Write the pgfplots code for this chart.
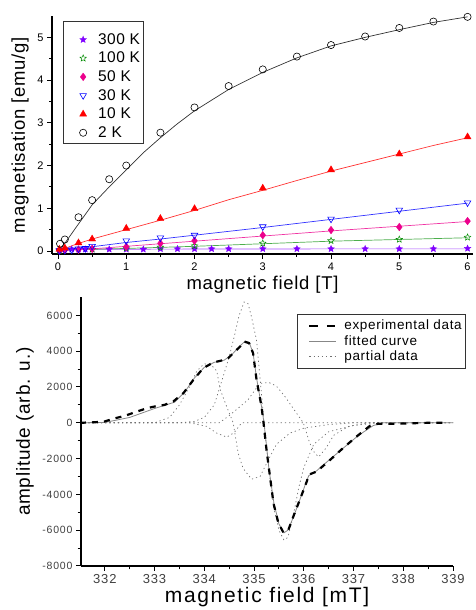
\documentclass[border=0pt]{standalone}
\usepackage{fontspec}
\setmainfont{Liberation Sans}
\usepackage{pgfplots}
\pgfplotsset{compat=1.18}

\definecolor{violetstar}{RGB}{128,0,255}
\definecolor{greenstar}{RGB}{0,140,0}
\definecolor{fitgray}{RGB}{135,135,135}
\definecolor{partgray}{RGB}{110,110,110}

\pgfplotsset{
  mkleg/.style={legend image code/.code={%
      \path[draw=none] (0pt,0pt) (32pt,0pt);
      \draw[##1] plot[only marks] coordinates {(19pt,0pt)};}},
}

% five-pointed star marks, filled and open
\pgfdeclareplotmark{fstar}{%
  \pgfpathmoveto{\pgfpointpolar{90}{\pgfplotmarksize}}%
  \pgfpathlineto{\pgfpointpolar{126}{0.45\pgfplotmarksize}}%
  \pgfpathlineto{\pgfpointpolar{162}{\pgfplotmarksize}}%
  \pgfpathlineto{\pgfpointpolar{198}{0.45\pgfplotmarksize}}%
  \pgfpathlineto{\pgfpointpolar{234}{\pgfplotmarksize}}%
  \pgfpathlineto{\pgfpointpolar{270}{0.45\pgfplotmarksize}}%
  \pgfpathlineto{\pgfpointpolar{306}{\pgfplotmarksize}}%
  \pgfpathlineto{\pgfpointpolar{342}{0.45\pgfplotmarksize}}%
  \pgfpathlineto{\pgfpointpolar{18}{\pgfplotmarksize}}%
  \pgfpathlineto{\pgfpointpolar{54}{0.45\pgfplotmarksize}}%
  \pgfpathclose
  \pgfusepathqfillstroke}
\pgfdeclareplotmark{ostar}{%
  \pgfpathmoveto{\pgfpointpolar{90}{\pgfplotmarksize}}%
  \pgfpathlineto{\pgfpointpolar{126}{0.45\pgfplotmarksize}}%
  \pgfpathlineto{\pgfpointpolar{162}{\pgfplotmarksize}}%
  \pgfpathlineto{\pgfpointpolar{198}{0.45\pgfplotmarksize}}%
  \pgfpathlineto{\pgfpointpolar{234}{\pgfplotmarksize}}%
  \pgfpathlineto{\pgfpointpolar{270}{0.45\pgfplotmarksize}}%
  \pgfpathlineto{\pgfpointpolar{306}{\pgfplotmarksize}}%
  \pgfpathlineto{\pgfpointpolar{342}{0.45\pgfplotmarksize}}%
  \pgfpathlineto{\pgfpointpolar{18}{\pgfplotmarksize}}%
  \pgfpathlineto{\pgfpointpolar{54}{0.45\pgfplotmarksize}}%
  \pgfpathclose
  \pgfusepathqstroke}

\begin{document}
\begin{tikzpicture}
\path[use as bounding box] (0,0) rectangle (475pt,610pt);

% ---------- top panel: magnetisation ----------
\begin{axis}[
    at={(52pt,356pt)}, anchor=south west,
    scale only axis, width=421pt, height=238pt,
    xmin=-0.088, xmax=6.08, ymin=-0.07, ymax=5.5,
    axis x line*=bottom, axis y line*=left,
    axis line style={line width=2.2pt},
    xtick={0,...,6}, ytick={0,...,5},
    minor x tick num=1, minor y tick num=1,
    tick align=outside, major tick length=5pt, minor tick length=3pt,
    tick style={black, line width=1pt},
    /pgf/number format/assume math mode=true,
    ticklabel style={font=\fontsize{11}{12}\selectfont},
    xlabel={magnetic field [T]},
    ylabel={magnetisation [emu/g]},
    label style={font=\fontsize{18.5}{20}\selectfont\addfontfeatures{LetterSpace=4}},
    xlabel style={at={(axis description cs:0.5,-0.13)}, anchor=center},
    ylabel style={at={(axis description cs:-0.076,0.5)}, anchor=center},
    legend style={at={(0.026,0.979)}, anchor=north west, draw=black!80,
        font=\fontsize{15.5}{16}\selectfont\addfontfeatures{LetterSpace=3}, cells={anchor=west},
        row sep=2.3pt, inner xsep=1pt, inner ysep=2.5pt},
    clip=false,
]
\addlegendimage{empty legend}
\addlegendentry{}
% fitted lines
\addplot[violetstar!70!white, line width=0.7pt, forget plot] coordinates {(0,0.04) (2,0.045) (4,0.05) (6,0.05)};
\addplot[greenstar!70!white, line width=0.7pt, forget plot] coordinates {(0,0.02) (1,0.06) (2,0.11) (3,0.17) (4,0.23) (5,0.27) (6,0.31)};
\addplot[magenta!80!white, line width=0.7pt, forget plot] coordinates {(0,0) (0.5,0.05) (1,0.11) (1.5,0.17) (2,0.23) (3,0.35) (4,0.47) (5,0.58) (6,0.69)};
\addplot[blue!80!white, line width=0.7pt, forget plot] coordinates {(0,0) (0.5,0.1) (1,0.2) (1.5,0.28) (2,0.37) (3,0.55) (4,0.74) (5,0.93) (6,1.12)};
\addplot[red!80!white, line width=0.7pt, forget plot] coordinates {(0,0) (0.25,0.15) (0.5,0.28) (1,0.5) (1.5,0.72) (2,0.95) (2.5,1.2) (3,1.42) (3.5,1.65) (4,1.87) (4.5,2.07) (5,2.27) (5.5,2.47) (6,2.65)};
\addplot[black!80, line width=0.7pt, forget plot] coordinates {(0,0) (0.1,0.18) (0.25,0.52) (0.5,1.08) (0.75,1.5) (1,1.9) (1.25,2.3) (1.5,2.65) (1.75,2.98) (2,3.28) (2.5,3.78) (3,4.18) (3.5,4.52) (4,4.8) (4.5,5.0) (5,5.18) (5.5,5.35) (6,5.48)};
% measured points
\addplot[only marks, mkleg, mark=fstar, mark size=3.4pt, violetstar, mark options={fill=violetstar, line width=0.4pt}] coordinates {
(0.02,0.03) (0.1,0.04) (0.2,0.04) (0.3,0.04) (0.4,0.04) (0.5,0.04) (0.75,0.04) (1,0.04) (1.25,0.04) (1.5,0.05) (1.75,0.05) (2,0.05) (2.25,0.05) (2.5,0.05) (3,0.05) (3.5,0.05) (4,0.05) (4.5,0.05) (5,0.05) (5.5,0.05) (6,0.06)};
\addlegendentry{300 K}
\addplot[only marks, mkleg, mark=ostar, mark size=3.4pt, greenstar, mark options={line width=0.5pt}] coordinates {
(0.02,0.01) (0.5,0.04) (1,0.07) (1.5,0.09) (2,0.12) (3,0.18) (4,0.24) (5,0.27) (6,0.32)};
\addlegendentry{100 K}
\addplot[only marks, mkleg, mark=diamond*, mark size=3.8pt, magenta, mark options={fill=magenta}] coordinates {
(0.02,0.01) (0.1,0.02) (0.3,0.03) (0.5,0.05) (1,0.1) (1.5,0.18) (2,0.24) (3,0.37) (4,0.49) (5,0.56) (6,0.7)};
\addlegendentry{50 K}
\addplot[only marks, mkleg, mark=triangle, mark size=3.8pt, blue, mark options={rotate=180, line width=0.6pt}] coordinates {
(0.02,0.01) (0.1,0.02) (0.2,0.03) (0.3,0.05) (0.4,0.06) (0.5,0.11) (1,0.24) (1.5,0.31) (2,0.37) (3,0.57) (4,0.75) (5,0.96) (6,1.13)};
\addlegendentry{30 K}
\addplot[only marks, mkleg, mark=triangle*, mark size=4pt, red, mark options={fill=red}] coordinates {
(0.02,0.04) (0.1,0.07) (0.3,0.19) (0.5,0.28) (1,0.53) (1.5,0.76) (2,0.99) (3,1.47) (4,1.9) (5,2.27) (6,2.67)};
\addlegendentry{10 K}
\addplot[only marks, mkleg, mark=o, mark size=3.6pt, black, mark options={line width=0.6pt}] coordinates {
(0.03,0.17) (0.1,0.27) (0.3,0.79) (0.5,1.19) (0.75,1.68) (1,2.0) (1.5,2.77) (2,3.36) (2.5,3.86) (3,4.25) (3.5,4.55) (4,4.82) (4.5,5.02) (5,5.22) (5.5,5.37) (6,5.48)};
\addlegendentry{2 K}
\end{axis}

% ---------- bottom panel: ESR spectrum ----------
\begin{axis}[
    at={(81pt,44pt)}, anchor=south west,
    scale only axis, width=372pt, height=268.5pt,
    xmin=331.52, xmax=339, ymin=-8000, ymax=7000,
    axis x line*=bottom, axis y line*=left,
    axis line style={line width=2pt},
    xtick={332,...,339}, ytick={-8000,-6000,...,6000},
    minor x tick num=1, minor y tick num=1,
    tick align=outside, major tick length=5pt, minor tick length=3.5pt,
    tick style={black, line width=1pt},
    scaled ticks=false,
    /pgf/number format/1000 sep={},
    /pgf/number format/assume math mode=true,
    x tick label style={font=\fontsize{13}{14}\selectfont\addfontfeatures{LetterSpace=6}, text=black!75},
    y tick label style={font=\fontsize{10.5}{12}\selectfont\addfontfeatures{LetterSpace=8}, text=black!75},
    xlabel={magnetic field [mT]},
    ylabel={amplitude (arb. u.)},
    xlabel style={font=\fontsize{21}{24}\selectfont\addfontfeatures{LetterSpace=8},
        at={(axis description cs:0.5,-0.1155)}, anchor=center},
    ylabel style={font=\fontsize{19}{22}\selectfont\addfontfeatures{LetterSpace=4},
        at={(axis description cs:-0.1505,0.5)}, anchor=center},
    legend style={at={(0.581,0.9385)}, anchor=north west, draw=black!80,
        font=\fontsize{13.5}{14}\selectfont\addfontfeatures{LetterSpace=5}, cells={anchor=west},
        row sep=0pt, inner xsep=1pt, inner ysep=4pt},
    legend image code/.code={\path[draw=none] (0pt,0pt) (44pt,0pt); \draw[#1] (11pt,0pt) -- (38pt,0pt);},
]
\addlegendimage{draw=black, line width=2.2pt, dash pattern=on 8.5pt off 9pt}
\addlegendentry{experimental data}
\addlegendimage{draw=fitgray, line width=0.8pt}
\addlegendentry{fitted curve}
\addlegendimage{draw=partgray, line width=0.7pt, dash pattern=on 1.2pt off 3pt}
\addlegendentry{partial data}

% partial components
\addplot[draw=partgray, line width=0.7pt, dash pattern=on 1.2pt off 3pt, forget plot] coordinates {
(331.5,0) (333.5,0) (333.8,80) (334.0,300) (334.2,1000) (334.38,2600) (334.5,3700) (334.6,4800) (334.7,6000) (334.8,6750) (334.88,6650) (334.95,5900) (335.05,4600) (335.12,2500) (335.2,0) (335.3,-2700) (335.4,-4800) (335.5,-6000) (335.6,-6550) (335.68,-6400) (335.78,-5300) (335.9,-3600) (336.0,-2500) (336.2,-1200) (336.5,-500) (337.0,-150) (337.5,0) (339,0)};
\addplot[draw=partgray, line width=0.7pt, dash pattern=on 1.2pt off 3pt, forget plot] coordinates {
(331.5,0) (333.0,0) (333.3,300) (333.5,1000) (333.7,2000) (333.85,2900) (334.0,3300) (334.15,3200) (334.25,2900) (334.32,1850) (334.45,900) (334.58,0) (334.68,-1700) (334.78,-2550) (334.95,-3150) (335.12,-3000) (335.3,-2000) (335.45,-1200) (335.72,-580) (336.0,-300) (336.5,-100) (337,0) (339,0)};
\addplot[draw=partgray, line width=0.7pt, dash pattern=on 1.2pt off 3pt, forget plot] coordinates {
(331.5,0) (334.3,0) (334.5,400) (334.72,910) (334.88,1290) (335.02,1840) (335.12,2200) (335.3,2250) (335.45,2050) (335.62,1470) (335.76,910) (335.99,0) (336.12,-1140) (336.22,-1700) (336.3,-1900) (336.45,-1400) (336.6,-700) (336.9,-200) (337.3,0) (339,0)};
\addplot[draw=partgray, line width=0.7pt, dash pattern=on 1.2pt off 3pt, forget plot] coordinates {
(331.5,0) (333.7,0) (334.05,-200) (334.25,-580) (334.45,-800) (334.6,-550) (334.75,0) (339,0)};

% fitted curve
\addplot[draw=fitgray, line width=0.8pt, forget plot] coordinates {
(331.5,0) (332.0,20) (332.5,300) (333.0,800) (333.4,1150) (333.6,1700) (333.8,2500) (334.0,3100) (334.2,3380) (334.4,3500) (334.55,3800) (334.7,4250) (334.82,4560) (334.9,4500) (334.98,3900) (335.05,2500) (335.15,900) (335.2,0) (335.3,-2600) (335.4,-4500) (335.5,-5650) (335.6,-6150) (335.68,-6000) (335.8,-5200) (335.92,-4300) (336.05,-3300) (336.1,-2950) (336.25,-2700) (336.5,-2100) (336.8,-1400) (337.1,-700) (337.4,-150) (337.6,0) (339,0)};

% experimental data
\addplot[draw=black, line width=2.2pt, dash pattern=on 6pt off 6pt, forget plot] coordinates {
(331.5,0) (331.8,30) (332.0,80) (332.2,250) (332.4,390) (332.65,630) (332.85,820) (333.0,910) (333.2,1000) (333.38,1200) (333.58,1660) (333.78,2400) (333.98,3060) (334.18,3370) (334.35,3480) (334.48,3610) (334.58,3890) (334.72,4260) (334.8,4540) (334.9,4450) (334.98,3890) (335.05,2400) (335.15,910) (335.19,0) (335.25,-1510) (335.32,-3000) (335.39,-4490) (335.49,-5610) (335.59,-6130) (335.69,-5980) (335.79,-5230) (335.92,-4300) (336.06,-3280) (336.1,-2900) (336.26,-2720) (336.53,-2070) (336.79,-1410) (337.06,-770) (337.33,-170) (337.5,-50) (337.7,-60) (338.0,-40) (338.5,0) (338.9,0)};
\end{axis}
\end{tikzpicture}
\end{document}
